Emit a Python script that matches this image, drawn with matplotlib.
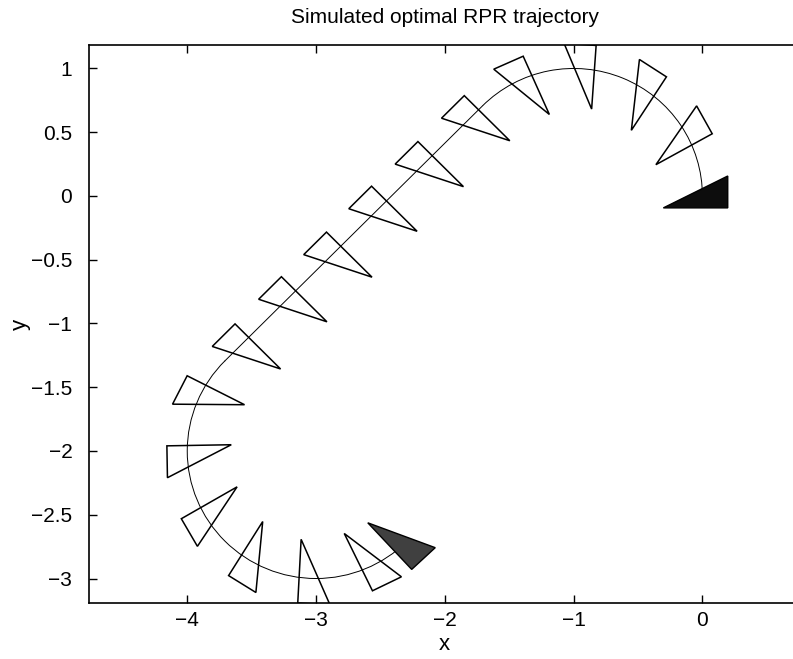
import numpy as np
import matplotlib.pyplot as plt
from matplotlib.patches import Arc, Polygon
from matplotlib.transforms import Affine2D

plt.rcParams['font.family'] = ['Liberation Sans', 'DejaVu Sans']

# path: arc - straight line - arc (unit radius turns)
arc_centers = [(-1.0, 0.0), (-3.0, -2.0)]
arc_radius = 1.0
arc_spans = [(0.0, 135.0), (135.0, 315.0)]

# sampled robot poses (triangle centroid + heading, deg)
pose_x = [0.03, -0.11, -0.44, -0.92, -1.40, -1.79, -2.15, -2.51, -2.86,
          -3.21, -3.57, -3.89, -3.99, -3.86, -3.52, -3.05, -2.56, -2.31]
pose_y = [-0.01, 0.48, 0.84, 1.02, 0.91, 0.61, 0.25, -0.10, -0.46,
          -0.81, -1.18, -1.56, -2.04, -2.52, -2.88, -3.03, -2.91, -2.75]
pose_heading = [180, 209, 237, 266, 294, 315, 315, 315, 315,
                315, 315, 333, 361, 390, 418, 447, 476, 493]

# triangle outline in body frame (x forward, y left)
tri_body = [(-1/6, 1/12), (1/3, 1/12), (-1/6, -1/6)]

fig = plt.figure(figsize=(7.93, 6.59), dpi=100)
ax = fig.add_axes([0.1122, 0.085, 0.897, 0.8467])

# trajectory
for (cx, cy), (a0, a1) in zip(arc_centers, arc_spans):
    ax.add_patch(Arc((cx, cy), 2*arc_radius, 2*arc_radius, theta1=a0, theta2=a1,
                     color='k', lw=0.7))
p0 = np.array(arc_centers[0]) + arc_radius*np.array([np.cos(np.radians(arc_spans[0][1])),
                                                     np.sin(np.radians(arc_spans[0][1]))])
p1 = np.array(arc_centers[1]) + arc_radius*np.array([np.cos(np.radians(arc_spans[1][0])),
                                                     np.sin(np.radians(arc_spans[1][0]))])
ax.plot([p0[0], p1[0]], [p0[1], p1[1]], color='k', lw=0.7)

n = len(pose_x)
for i in range(n):
    tr = Affine2D().rotate_deg(pose_heading[i]).translate(pose_x[i], pose_y[i]) + ax.transData
    if i == 0:
        poly = Polygon(tri_body, closed=True, facecolor='0.05', edgecolor='k', lw=1.0, transform=tr)
    elif i == n - 1:
        poly = Polygon(tri_body, closed=True, facecolor='0.25', edgecolor='k', lw=1.0, transform=tr)
    else:
        poly = Polygon(tri_body, closed=True, fill=False, edgecolor='k', lw=1.1, transform=tr)
    ax.add_patch(poly)

# right spine sits just past the cropped figure edge
ax.set_xlim(-4.763, 0.76)
ax.set_ylim(-3.192, 1.184)
ax.set_xticks([-4, -3, -2, -1, 0])
ax.set_yticks([-3, -2.5, -2, -1.5, -1, -0.5, 0, 0.5, 1])
ax.set_yticklabels(['\u22123', '\u22122.5', '\u22122', '\u22121.5', '\u22121',
                    '\u22120.5', '0', '0.5', '1'])
ax.tick_params(direction='in', length=6, width=1, top=True, right=False, labelsize=15)
ax.tick_params(axis='x', pad=6)
ax.tick_params(axis='y', pad=12)
for s in ax.spines.values():
    s.set_linewidth(1.2)

ax.set_title('Simulated optimal RPR trajectory', fontsize=15, pad=16)
ax.set_xlabel('x', fontsize=16, labelpad=3)
ax.set_ylabel('y', fontsize=16, labelpad=0)

fig.savefig('out.png', dpi=100)
